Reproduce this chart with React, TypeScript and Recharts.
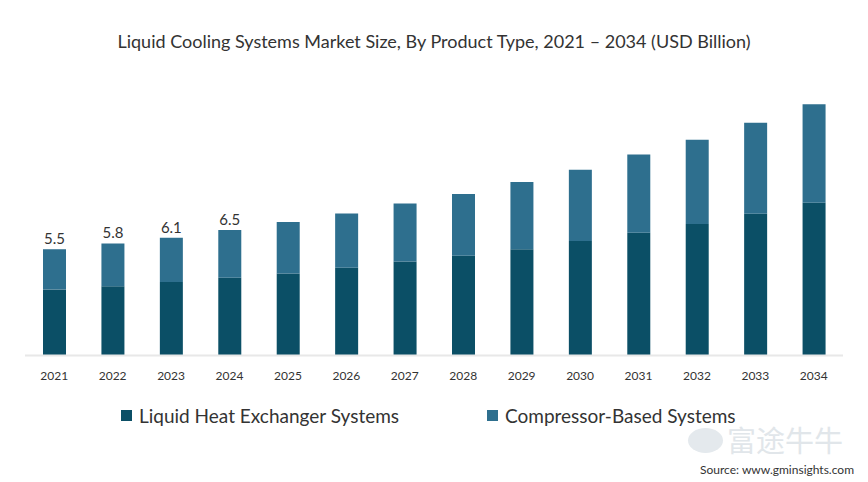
import { BarChart, Bar, XAxis, YAxis, LabelList } from "recharts";

const years = [
  "2021", "2022", "2023", "2024", "2025", "2026", "2027",
  "2028", "2029", "2030", "2031", "2032", "2033", "2034",
];

// USD billion
const heatExchanger = [3.42, 3.59, 3.8, 4.02, 4.25, 4.54, 4.87, 5.16, 5.5, 5.93, 6.35, 6.81, 7.33, 7.9];
const compressorBased = [2.08, 2.21, 2.3, 2.48, 2.66, 2.81, 3.0, 3.2, 3.48, 3.69, 4.05, 4.36, 4.72, 5.11];

// only the first few years carry a total on top
const labelledYears = 4;

const DARK = "#0b4f66";
const LIGHT = "#2e6f8e";
const FONT = "Lato, 'Open Sans', sans-serif";

const data = years.map((year, i) => ({
  year,
  heat: heatExchanger[i],
  compressor: compressorBased[i],
  total: i < labelledYears ? (heatExchanger[i] + compressorBased[i]).toFixed(1) : null,
}));

interface TotalLabelProps {
  x?: number;
  y?: number;
  width?: number;
  value?: string | null;
}

function TotalLabel({ x, y, width, value }: TotalLabelProps) {
  if (value == null || x == null || y == null || width == null) return null;
  return (
    <text
      x={x + width / 2}
      y={y - 5}
      textAnchor="middle"
      fontSize={15}
      fontFamily={FONT}
      fill="#333"
    >
      {value}
    </text>
  );
}

const legendItems = [
  { name: "Liquid Heat Exchanger Systems", color: DARK, left: 121 },
  { name: "Compressor-Based Systems", color: LIGHT, left: 487 },
];

export default function App() {
  return (
    <div
      style={{
        position: "absolute",
        left: 0,
        top: 0,
        width: 868,
        height: 482,
        background: "#fff",
        fontFamily: FONT,
        overflow: "hidden",
      }}
    >
      <div
        style={{
          position: "absolute",
          top: 30,
          width: 868,
          textAlign: "center",
          fontSize: 18,
          color: "#333",
        }}
      >
        Liquid Cooling Systems Market Size, By Product Type, 2021 – 2034 (USD Billion)
      </div>

      <div style={{ position: "absolute", left: 0, top: 0 }}>
        <BarChart
          width={868}
          height={400}
          data={data}
          margin={{ top: 85, right: 25, bottom: 0, left: 25 }}
          barSize={23}
        >
          <XAxis
            dataKey="year"
            axisLine={{ stroke: "#e8e8e8", strokeWidth: 2 }}
            tickLine={false}
            tickMargin={10}
            height={44.5}
            tick={{ fill: "#333", fontSize: 12, fontFamily: FONT }}
          />
          <YAxis hide domain={[0, 14]} />
          <Bar dataKey="heat" stackId="a" fill={DARK} isAnimationActive={false} />
          <Bar dataKey="compressor" stackId="a" fill={LIGHT} isAnimationActive={false}>
            <LabelList dataKey="total" content={<TotalLabel />} />
          </Bar>
        </BarChart>
      </div>

      {legendItems.map((item) => (
        <div
          key={item.name}
          style={{
            position: "absolute",
            left: item.left,
            top: 404,
            display: "flex",
            alignItems: "center",
            fontSize: 19,
            color: "#333",
          }}
        >
          <span
            style={{
              display: "inline-block",
              width: 11,
              height: 11,
              background: item.color,
              marginRight: 7,
            }}
          />
          {item.name}
        </div>
      ))}

      {/* faint watermark in the lower right */}
      <div
        style={{
          position: "absolute",
          left: 688,
          top: 428,
          width: 35,
          height: 25,
          borderRadius: "50%",
          background: "#e4e9ed",
        }}
      />
      <div
        style={{
          position: "absolute",
          left: 727,
          top: 425,
          fontSize: 29,
          lineHeight: "29px",
          fontFamily: "'Noto Sans CJK SC', sans-serif",
          color: "#e1e6ea",
        }}
      >
        富途牛牛
      </div>

      <div
        style={{
          position: "absolute",
          right: 14,
          top: 462,
          fontSize: 12,
          lineHeight: "16px",
          color: "#333",
        }}
      >
        Source: www.gminsights.com
      </div>
    </div>
  );
}
